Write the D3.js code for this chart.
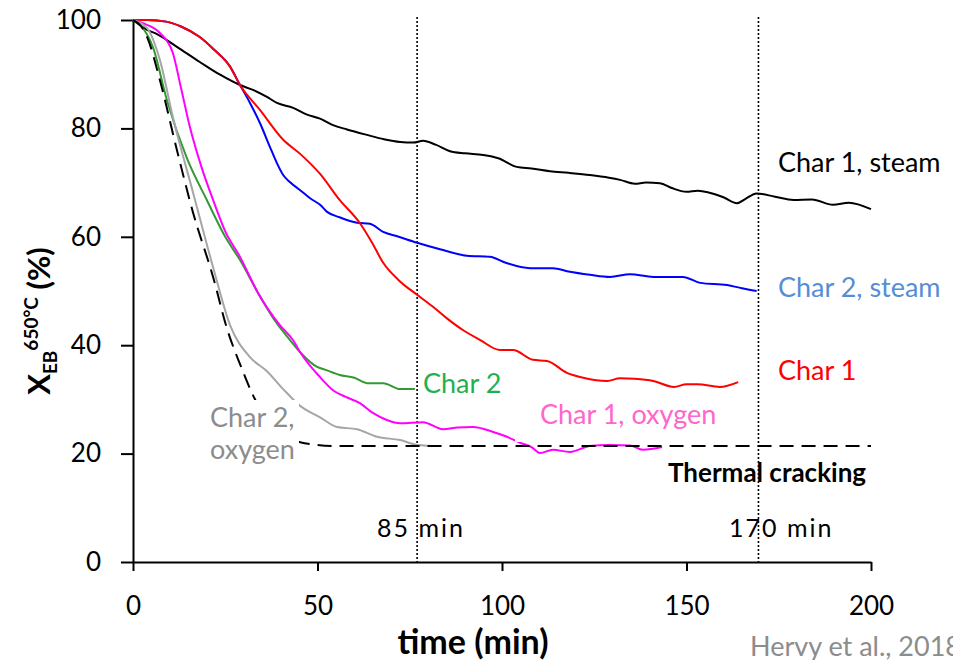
<!DOCTYPE html>
<html>
<head>
<meta charset="utf-8">
<script src="https://cdn.jsdelivr.net/npm/d3@7"></script>
<style>
  body { margin: 0; background: #fff; }
  svg text { font-family: Lato, "Open Sans", sans-serif; }
</style>
</head>
<body>
<div id="graphicContainer"></div>
<script>
// values (time in min, X_EB in %)
var steamChar1 = [[0,100],[3.8,98.2],[6.5,97.4],[12,95],[18,92.3],[23.6,89.9],[29,88],[32.5,87.1],[36.3,85.8],[39,84.7],[43.4,83.8],[47,82.6],[50.7,81.8],[54.2,80.6],[58,79.8],[63.4,78.8],[68,78],[72.4,77.5],[76,77.4],[78.6,77.7],[82,77],[85.9,75.8],[90,75.4],[94.9,75.1],[99,74.5],[104,72.9],[108,72.6],[113,72.1],[118,71.8],[123.8,71.4],[129,70.9],[132,70.5],[136,69.8],[139,70],[142.8,69.9],[146,69],[150,68.3],[153,68.5],[157,68],[160,67.3],[163.7,66.2],[166,67],[169,68],[174,67.4],[179,66.8],[184,66.9],[189.7,65.9],[194,66.3],[200,65.1]];
var steamChar2 = [[0,100],[4,100],[9,99.7],[13,98.8],[18,96.9],[22,94.5],[26.3,91.4],[29,88],[31.7,84.7],[34.4,81],[37.1,76.6],[39,73.6],[40.7,71.4],[42.5,70.1],[45.3,68.6],[48,67.1],[50.7,65.9],[52.6,64.6],[56,63.6],[60.7,62.6],[64.2,62.4],[67.8,60.9],[72,60],[77,58.9],[83.2,57.7],[90.5,56.5],[96.7,56.3],[101,55.2],[107.6,54.2],[113.8,54.2],[118,53.6],[123.8,53],[129.3,52.6],[134.7,53.1],[141,52.6],[149,52.6],[153.7,51.5],[161,51.1],[165,50.5],[169,50]];
var char1 = [[0,100],[4,100],[9,99.7],[13,98.8],[18,96.9],[22,94.5],[26.3,91.4],[29,88],[34.4,83.4],[40.7,77.9],[45.3,75.3],[50.7,71.6],[56,66.8],[61.5,62.5],[64.8,58.9],[67.8,55.2],[72,52],[77,49.3],[81.3,47.1],[85,45],[89.4,42.8],[94,41],[99.5,39.1],[103,39.1],[108.4,37.3],[112.2,37.1],[117.6,34.9],[122,34],[128.5,33.4],[132,33.9],[136,33.8],[141,33.4],[146.6,32.3],[150,32.8],[153,32.8],[159,32.3],[164,33.2]];
var char2 = [[0,100],[1.9,99.1],[5.4,95],[9.2,85.2],[14.6,74.5],[20,66.8],[25,60],[29,55.7],[34,49.5],[39,44],[42.5,41],[45.3,38.7],[49.9,36],[52,35.5],[56,34.5],[60,34],[63.4,33],[67.8,33],[72.4,31.9],[76.4,31.9]];
var char1Oxygen = [[0,100],[2.7,99.4],[7.3,97.6],[10.8,93.9],[13,87.5],[15.4,80.3],[18.5,73],[21.7,66.8],[25,61],[29,56.3],[34,49.5],[39.8,43.7],[43.4,40.9],[45.3,38.7],[50.7,34.1],[54.2,31.7],[57.5,30.5],[61.5,29.3],[65,27.5],[68.8,26.2],[72.4,25.6],[78.6,25.8],[84,24.5],[88,24.8],[92.1,24.9],[97.6,24],[101,23.2],[104.9,22],[108,21.2],[110.3,20.1],[113.8,20.7],[118.4,20.3],[123.8,21.4],[129,21.6],[134.7,21.5],[138.2,20.7],[143.4,21.2]];
var char2Oxygen = [[0,100],[3.8,98.5],[7.3,92.6],[10.8,82.1],[16.3,68.1],[21.7,54.4],[26.3,43.7],[31.7,37.8],[36.3,35.2],[40.7,31.9],[45.3,28.8],[50.7,26.7],[55.3,24.9],[60.7,24.5],[66.1,23.1],[72.4,22.5],[77,21.6],[83.2,21.4]];
var thermalCracking = [[0,100],[2,99],[3.8,96.9],[7.3,88.9],[11.9,76],[16.3,64.4],[21.7,52.6],[25.5,43],[29,36.5],[32.5,30.8],[36,26.5],[40,23.5],[45.3,22.1],[49.9,21.6],[55,21.4],[200,21.4]];

var xTicks = [0, 50, 100, 150, 200];
var yTicks = [0, 20, 40, 60, 80, 100];
var markerTimes = [77, 169.5];
var markerLabels = ["85 min", "170 min"];

var w = 953, h = 660;
var margin = {top: 20, right: 82, bottom: 98, left: 133};

var svg = d3.select("#graphicContainer").append("svg")
    .attr("width", w)
    .attr("height", h);

var x = d3.scaleLinear().domain([0, 200]).range([margin.left, w - margin.right]);
var y = d3.scaleLinear().domain([0, 100]).range([h - margin.bottom, margin.top]);

var line = d3.line()
    .x(function(d) { return x(d[0]); })
    .y(function(d) { return y(d[1]); })
    .curve(d3.curveMonotoneX);

// axes
var xAxis = d3.axisBottom(x).tickValues(xTicks).tickSizeInner(9).tickSizeOuter(0).tickPadding(26);
var yAxis = d3.axisLeft(y).tickValues(yTicks).tickSizeInner(12).tickSizeOuter(0).tickPadding(20);

var gx = svg.append("g")
    .attr("transform", "translate(0," + y(0) + ")")
    .call(xAxis);
var gy = svg.append("g")
    .attr("transform", "translate(" + x(0) + ",0)")
    .call(yAxis);

[gx, gy].forEach(function(g) {
  g.selectAll("path, line").attr("stroke", "#000").attr("stroke-width", 2);
  g.selectAll("text").attr("font-size", 26).attr("fill", "#000").style("font-family", "Lato, sans-serif");
});

// vertical dotted markers
svg.selectAll(".marker").data(markerTimes).enter().append("line")
    .attr("class", "marker")
    .attr("x1", function(d) { return x(d); })
    .attr("x2", function(d) { return x(d); })
    .attr("y1", y(100) - 3)
    .attr("y2", y(0))
    .attr("stroke", "#000")
    .attr("stroke-width", 1.6)
    .attr("stroke-dasharray", "2,2");

// series
var series = [
  {data: steamChar1, color: "#000000", dash: null},
  {data: steamChar2, color: "#0000ff", dash: null},
  {data: char1, color: "#ff0000", dash: null},
  {data: char2, color: "#339933", dash: null},
  {data: char1Oxygen, color: "#ff00ff", dash: null},
  {data: char2Oxygen, color: "#a6a6a6", dash: null},
  {data: thermalCracking, color: "#000000", dash: "14,8"}
];

svg.selectAll(".series").data(series).enter().append("path")
    .attr("class", "series")
    .attr("fill", "none")
    .attr("stroke", function(d) { return d.color; })
    .attr("stroke-width", 2)
    .attr("stroke-dasharray", function(d) { return d.dash; })
    .attr("d", function(d) { return line(d.data); });

// label backgrounds where the source hides lines
svg.append("rect").attr("x", 205).attr("y", 400).attr("width", 94).attr("height", 70).attr("fill", "#fff");
svg.append("rect").attr("x", 515).attr("y", 398).attr("width", 205).attr("height", 44).attr("fill", "#fff");

// labels
var labels = [
  {text: "Char 1, steam", x: 778, y: 172, color: "#000000", weight: "normal"},
  {text: "Char 2, steam", x: 778, y: 297, color: "#558ed5", weight: "normal"},
  {text: "Char 1", x: 778, y: 380, color: "#ff0000", weight: "normal"},
  {text: "Char 2", x: 423, y: 393, color: "#1fb04f", weight: "normal"},
  {text: "Char 1, oxygen", x: 540, y: 424, color: "#ff66cc", weight: "normal"},
  {text: "Char 2,", x: 210, y: 427, color: "#8c8c8c", weight: "normal"},
  {text: "oxygen", x: 210, y: 459, color: "#8c8c8c", weight: "normal"},
  {text: "Thermal cracking", x: 668, y: 482, color: "#000000", weight: "bold"}
];

svg.selectAll(".lab").data(labels).enter().append("text")
    .attr("class", "lab")
    .attr("x", function(d) { return d.x; })
    .attr("y", function(d) { return d.y; })
    .attr("fill", function(d) { return d.color; })
    .attr("font-weight", function(d) { return d.weight; })
    .attr("font-size", function(d) { return d.weight === "bold" ? 26 : 27; })
    .text(function(d) { return d.text; });

svg.selectAll(".mlab").data(markerLabels).enter().append("text")
    .attr("class", "mlab")
    .attr("x", function(d, i) { return i === 0 ? 377 : 729; })
    .attr("y", 537)
    .attr("font-size", 25)
    .attr("letter-spacing", 2)
    .attr("fill", "#000")
    .text(function(d) { return d; });

// axis titles
svg.append("text")
    .attr("x", 473)
    .attr("y", 654)
    .attr("text-anchor", "middle")
    .attr("font-size", 34)
    .attr("font-weight", "bold")
    .text("time (min)");

var yt = svg.append("text")
    .attr("transform", "translate(50,321) rotate(-90)")
    .attr("text-anchor", "middle")
    .attr("font-size", 31)
    .attr("font-weight", "bold");
yt.append("tspan").text("X");
yt.append("tspan").attr("font-size", 19).attr("dy", 7).text("EB");
yt.append("tspan").attr("font-size", 19).attr("dy", -19).text("650°C");
yt.append("tspan").attr("dy", 12).text(" (%)");

svg.append("text")
    .attr("x", 750)
    .attr("y", 656)
    .attr("font-size", 27)
    .attr("fill", "#8c8c8c")
    .text("Hervy et al., 2018");
</script>
</body>
</html>
